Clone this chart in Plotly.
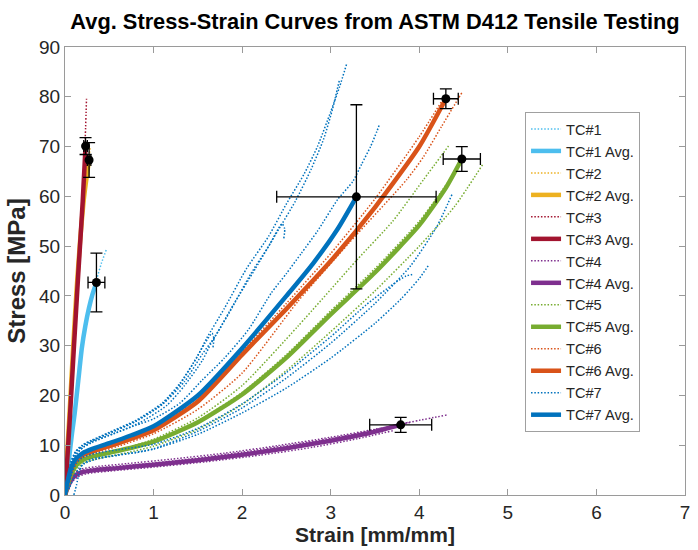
import plotly.graph_objects as go

# ---------------- data ----------------
group_names = ["TC#1", "TC#2", "TC#3", "TC#4", "TC#5", "TC#6", "TC#7"]
group_colors = ["#4DBEEE", "#EDB120", "#A2142F", "#7E2F8E", "#77AC30", "#D95319", "#0072BD"]

# individual specimens (dotted)
tc1_spec_x = [[0, 0.03, 0.07, 0.11, 0.16, 0.21, 0.26, 0.31, 0.36, 0.41, 0.467],
              [0, 0.04, 0.09, 0.14, 0.19, 0.24, 0.28]]
tc1_spec_y = [[0, 4, 10, 16, 24, 31, 36, 40, 43.5, 46.5, 49.3],
              [0, 6, 13, 21, 28.5, 34.5, 38]]
tc1_avg_x = [0, 0.02, 0.05, 0.08, 0.11, 0.15, 0.19, 0.23, 0.27, 0.31, 0.355]
tc1_avg_y = [0, 3, 8, 12.5, 16.5, 23, 29.5, 34, 37.5, 40.3, 42.7]

tc2_spec_x = [[0, 0.03, 0.07, 0.12, 0.17, 0.22, 0.26, 0.285]]
tc2_spec_y = [[0, 9, 21, 36, 49, 59, 66, 70]]
tc2_avg_x = [0, 0.02, 0.05, 0.09, 0.13, 0.17, 0.21, 0.245, 0.272]
tc2_avg_y = [0, 7, 16, 29, 41, 51, 59, 64, 67.3]

tc3_spec_x = [[0, 0.05, 0.1, 0.15, 0.2, 0.225, 0.243]]
tc3_spec_y = [[0, 14.5, 30.5, 46, 61, 70, 79.6]]
tc3_avg_x = [0, 0.05, 0.1, 0.15, 0.2, 0.232]
tc3_avg_y = [0, 14, 29.5, 44.5, 59, 70.1]

tc4_spec_x = [[0, 0.03, 0.07, 0.12, 0.2, 0.4, 0.8, 1.3, 2.0, 2.6, 3.2, 3.8, 4.32],
              [0, 0.04, 0.08, 0.14, 0.25, 0.5, 1.0, 1.6, 2.2, 2.8, 3.3, 3.7],
              [0, 0.03, 0.06, 0.1, 0.18, 0.35, 0.7, 1.2, 1.8, 2.4, 3.0, 3.5, 3.9]]
tc4_spec_y = [[0, 1.8, 3.4, 4.4, 5.0, 5.5, 6.1, 7.0, 8.6, 10.2, 12.0, 14.3, 16.1],
              [0, 1.2, 2.6, 3.6, 4.3, 4.8, 5.6, 6.7, 8.0, 9.6, 11.3, 12.9],
              [0, 1.6, 3.2, 4.4, 5.2, 5.7, 6.3, 7.2, 8.4, 9.9, 11.6, 13.2, 14.6]]
tc4_avg_x = [0, 0.03, 0.07, 0.12, 0.2, 0.35, 0.6, 1.0, 1.5, 2.0, 2.5, 3.0, 3.4, 3.79]
tc4_avg_y = [0, 1.5, 3, 4, 4.6, 5.0, 5.4, 6.1, 7.0, 8.1, 9.4, 10.9, 12.3, 14.1]

tc5_spec_x = [[0, 0.03, 0.07, 0.12, 0.2, 0.35, 0.6, 1.0, 1.5, 2.0, 2.63, 3.3, 3.7, 4.05, 4.33],
              [0, 0.04, 0.08, 0.14, 0.22, 0.4, 0.7, 1.0, 1.5, 2.0, 2.5, 3.0, 3.5, 4.0, 4.4, 4.72],
              [0, 0.03, 0.07, 0.12, 0.2, 0.3, 0.5, 1.0, 1.5, 2.0, 2.5, 3.0, 3.5, 4.0, 4.35]]
tc5_spec_y = [[0, 2.3, 4.6, 6.2, 7.2, 8.0, 9.0, 11.2, 15.5, 22, 33.9, 47.3, 55, 63.4, 70.1],
              [0, 1.7, 3.8, 5.4, 6.5, 7.4, 8.5, 9.8, 13.2, 18.2, 25, 32.8, 41, 50, 58, 66.5],
              [0, 2.1, 4.3, 5.9, 7.0, 7.7, 8.5, 10.9, 14.9, 20.6, 28.2, 37, 45.5, 55, 63.5]]
tc5_avg_x = [0, 0.03, 0.07, 0.12, 0.2, 0.3, 0.5, 0.75, 1.0, 1.5, 2.0, 2.5, 3.0, 3.5, 4.0, 4.3, 4.48]
tc5_avg_y = [0, 2, 4.2, 5.8, 7.0, 7.7, 8.5, 9.5, 10.7, 14.6, 20.2, 27.6, 36.3, 44.7, 54.2, 61.7, 67.5]

tc6_spec_x = [[0, 0.03, 0.07, 0.12, 0.2, 0.35, 0.6, 1.0, 1.5, 2.0, 2.63, 3.2, 3.86, 4.05, 4.25, 4.48],
              [0, 0.03, 0.07, 0.12, 0.2, 0.3, 0.5, 1.0, 1.5, 2.0, 2.5, 3.0, 3.5, 4.0, 4.25]]
tc6_spec_y = [[0, 2.3, 4.6, 6.3, 7.5, 8.5, 9.8, 12.3, 17.2, 24.5, 38.9, 50.5, 63.4, 68, 74, 80.8],
              [0, 2.7, 5.3, 7.1, 8.3, 9, 10.2, 13.6, 19.5, 28.8, 38.5, 48.5, 59.5, 72, 79]]
tc6_avg_x = [0, 0.03, 0.07, 0.12, 0.2, 0.3, 0.5, 0.75, 1.0, 1.5, 2.0, 2.5, 3.0, 3.5, 4.0, 4.3]
tc6_avg_y = [0, 2.5, 5, 6.8, 8, 8.7, 9.8, 11.3, 13, 18.8, 28.2, 37.4, 47, 57.8, 70, 79.6]

tc7_spec_x = [
    [0, 0.03, 0.07, 0.12, 0.2, 0.3, 0.5, 0.8, 1.1, 1.3, 1.5, 1.6, 1.8, 2.05, 2.3, 2.5, 2.7, 2.85, 3.0, 3.1, 3.18],
    [0, 0.04, 0.08, 0.14, 0.22, 0.32, 0.55, 0.85, 1.15, 1.35, 1.55, 1.65, 1.85, 2.1, 2.3, 2.45, 2.48, 2.47],
    [0, 0.03, 0.07, 0.12, 0.2, 0.3, 0.5, 0.8, 1.1, 1.35, 1.55, 1.7, 1.9, 2.15, 2.4, 2.6, 2.78, 2.92, 3.02, 3.1],
    [0, 0.03, 0.07, 0.12, 0.2, 0.3, 0.5, 0.8, 1.1, 1.3, 1.45, 1.58, 1.66, 1.68, 1.67],
    [0, 0.03, 0.07, 0.12, 0.2, 0.3, 0.5, 0.8, 1.0, 1.3, 1.55, 1.8, 2.07, 2.33, 2.5, 2.67, 2.85, 3.08, 3.25, 3.35, 3.45, 3.52, 3.55],
    [0, 0.05, 0.1, 0.15, 0.22, 0.35, 0.6, 1.0, 1.5, 2.0, 2.5, 3.0, 3.5, 3.9, 4.2, 4.37],
    [0.1, 0.13, 0.16, 0.2, 0.3, 0.5, 0.8, 1.0, 1.5, 2.0, 2.5, 3.0, 3.5, 3.8, 4.0, 4.11],
    [0, 0.04, 0.08, 0.13, 0.2, 0.35, 0.6, 1.0, 1.5, 2.0, 2.5, 3.0, 3.4, 3.7, 3.85, 3.92],
]
tc7_spec_y = [
    [0, 3.5, 6.8, 8.8, 10.1, 11, 12.6, 15, 18.5, 22.5, 28, 31.5, 37.5, 45.5, 52, 58.5, 64.5, 70, 77, 82, 86.6],
    [0, 3.3, 6.4, 8.5, 9.8, 10.8, 12.3, 14.6, 18, 22, 27, 30.5, 36.5, 44.5, 50, 54.5, 53.5, 51.5],
    [0, 3.4, 6.6, 8.6, 9.9, 10.9, 12.4, 14.8, 18.2, 22.8, 28.3, 32, 38.2, 45.5, 53, 59, 65.5, 71.5, 77.5, 83.5],
    [0, 3.2, 6.5, 8.6, 9.9, 10.8, 12.4, 14.8, 18.3, 22.3, 26.5, 30.5, 32.5, 31.5, 29.5],
    [0, 3, 6, 8, 9.5, 10.5, 12, 14, 15.3, 18.5, 23.1, 27.5, 33.2, 40.6, 44.5, 48.6, 53, 59.4, 63, 66.5, 70, 73, 74.4],
    [0, 1.5, 3.5, 5.2, 6.3, 7.2, 8, 9.3, 12.8, 17.5, 23.5, 30.5, 38.5, 46, 54, 60.4],
    [0, 2, 4.5, 6.2, 7.2, 7.8, 8.5, 9.2, 12.2, 16.5, 21.5, 27.5, 34.5, 39.5, 43.5, 46.3],
    [0, 2, 4.5, 6.4, 7.6, 8.4, 9.1, 10.2, 13.4, 18.3, 24.6, 31.8, 38.2, 42.3, 44, 44.3],
]
tc7_avg_x = [0, 0.03, 0.07, 0.12, 0.2, 0.3, 0.5, 0.75, 1.0, 1.5, 2.0, 2.5, 2.8, 3.08, 3.29]
tc7_avg_y = [0, 2.8, 5.5, 7.2, 8.4, 9.2, 10.4, 12, 13.8, 20, 29.5, 40, 46.5, 53.5, 59.9]

# failure points with error bars
fail_x = [0.355, 0.272, 0.232, 3.79, 4.48, 4.30, 3.29]
fail_y = [42.7, 67.3, 70.1, 14.1, 67.5, 79.6, 59.9]
fail_x_err = [0.095, 0.02, 0.02, 0.35, 0.21, 0.14, 0.90]
fail_y_err = [5.9, 3.5, 1.7, 1.5, 2.5, 2.0, 18.5]

spec_x = [tc1_spec_x, tc2_spec_x, tc3_spec_x, tc4_spec_x, tc5_spec_x, tc6_spec_x, tc7_spec_x]
spec_y = [tc1_spec_y, tc2_spec_y, tc3_spec_y, tc4_spec_y, tc5_spec_y, tc6_spec_y, tc7_spec_y]
avg_x = [tc1_avg_x, tc2_avg_x, tc3_avg_x, tc4_avg_x, tc5_avg_x, tc6_avg_x, tc7_avg_x]
avg_y = [tc1_avg_y, tc2_avg_y, tc3_avg_y, tc4_avg_y, tc5_avg_y, tc6_avg_y, tc7_avg_y]

# ---------------- figure ----------------
FONT = "Liberation Sans, Arial, sans-serif"
TXT = "#262626"
AX = "#9a9a9a"

fig = go.Figure()
for g, name in enumerate(group_names):
    col = group_colors[g]
    for i, (xs, ys) in enumerate(zip(spec_x[g], spec_y[g])):
        fig.add_trace(go.Scatter(
            x=xs, y=ys, mode="lines", name=name, legendgroup=name,
            showlegend=(i == 0),
            line=dict(color=col, width=1.5, dash="1.5px,1.8px", shape="spline", smoothing=0.6),
        ))
    fig.add_trace(go.Scatter(
        x=avg_x[g], y=avg_y[g], mode="lines", name=name + " Avg.",
        line=dict(color=col, width=4.5, shape="spline", smoothing=0.6),
    ))

fig.add_trace(go.Scatter(
    x=fail_x, y=fail_y, mode="markers", showlegend=False,
    marker=dict(color="black", size=9),
    error_x=dict(type="data", array=fail_x_err, color="black", thickness=1.3, width=6),
    error_y=dict(type="data", array=fail_y_err, color="black", thickness=1.3, width=6),
))

fig.update_layout(
    width=698, height=550,
    margin=dict(l=65, r=8, t=47, b=55),
    paper_bgcolor="white", plot_bgcolor="white",
    font=dict(family=FONT, color=TXT, size=18),
    title=dict(text="<b>Avg. Stress-Strain Curves from ASTM D412 Tensile Testing</b>",
               x=0.5, xref="paper", xanchor="center", y=1 - 21 / 550, yanchor="middle",
               font=dict(size=21.8, color="black")),
    legend=dict(x=0.742, y=0.855, xanchor="left", yanchor="top",
                bgcolor="white", bordercolor="#a0a0a0", borderwidth=1,
                font=dict(size=14.6, color=TXT), tracegroupgap=0),
    showlegend=True,
)
fig.update_xaxes(range=[0, 7], dtick=1, tick0=0, ticks="inside", ticklen=6, tickcolor=AX,
                 showline=True, linecolor=AX, linewidth=1, mirror="ticks", showgrid=False,
                 zeroline=False, tickfont=dict(size=19, color=TXT),
                 title=dict(text="<b>Strain [mm/mm]</b>", font=dict(size=21, color=TXT), standoff=4))
fig.update_yaxes(range=[0, 90], dtick=10, tick0=0, ticks="inside", ticklen=6, tickcolor=AX,
                 showline=True, linecolor=AX, linewidth=1, mirror="ticks", showgrid=False,
                 zeroline=False, tickfont=dict(size=19, color=TXT),
                 title=dict(text="<b>Stress [MPa]</b>", font=dict(size=24, color=TXT), standoff=6))

fig.write_html("out.html")
